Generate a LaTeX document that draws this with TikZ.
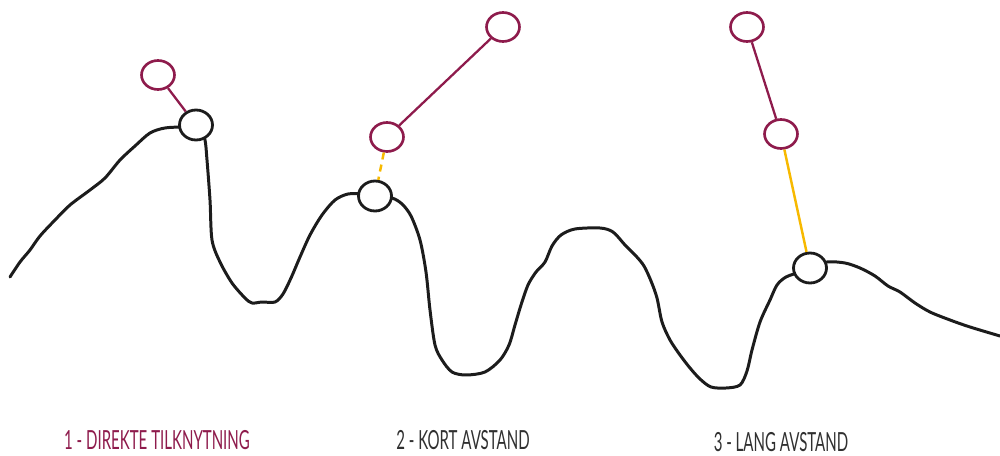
\documentclass[tikz,border=0pt]{standalone}
\usepackage{fontspec}
\setmainfont{Lato}[FakeStretch=0.57]
\usetikzlibrary{shapes.geometric}
\definecolor{wine}{HTML}{8E1B4C}
\definecolor{amber}{HTML}{F7B900}
\definecolor{ink}{HTML}{1C1C1C}
\definecolor{txtgray}{HTML}{303030}
\begin{document}
\begin{tikzpicture}[x=0.02cm,y=-0.02cm]
  \tikzset{
  hold/.style={ellipse,draw=ink,line width=1.6pt,fill=white,inner sep=0pt,minimum width=0.66cm,minimum height=0.6cm},
  hang/.style={ellipse,draw=wine,line width=1.5pt,fill=white,inner sep=0pt,minimum width=0.66cm,minimum height=0.58cm},
  lbl/.style={font=\fontsize{15}{17}\selectfont,anchor=base},
  }
  \useasboundingbox (0,0) rectangle (1000,456);
  % the terrain
  \draw[ink,line width=1.7pt,line cap=round,line join=round] plot[smooth,tension=0.5] coordinates {
    (10,277) (20,262) (30,250) (40,236) (55,220) (70,205) (90,190) (105,178)
    (120,160) (135,146) (150,133) (165,128) (185,127) (200,128) (205,140)
    (207,160) (210,200) (212,240) (220,262) (232,283) (245,298) (252,303)
    (262,302) (275,302) (283,294) (291,278) (300,257) (310,235) (322,215)
    (335,200) (348,194) (362,194) (375,196) (392,198) (402,204) (411,216)
    (420,240) (426,272) (430,310) (435,345) (442,360) (452,372) (466,375)
    (485,372) (500,360) (509,345) (515,325) (521,305) (528,285) (536,272)
    (545,262) (552,246) (561,235) (575,229) (600,228) (613,232) (625,245)
    (636,256) (644,266) (651,281) (657,298) (662,322) (670,340) (680,355)
    (690,368) (700,379) (711,387) (726,388) (740,385) (747,371) (752,350)
    (760,322) (770,300) (777,285) (786,277) (800,272) (810,268) (827,262)
    (845,263) (860,268) (875,276) (888,286) (900,292) (915,303) (930,312)
    (950,320) (970,327) (1000,336)};
  % the holds on the terrain
  \node[hold] (h1) at (196,125) {};
  \node[hold] (h2) at (375,196) {};
  \node[hold] (h3) at (810,268) {};
  % the hanging points
  \node[hang] (a1) at (158,75) {};
  \node[hang] (a2) at (387,137) {};
  \node[hang] (b2) at (503,27) {};
  \node[hang] (a3) at (781,134) {};
  \node[hang] (b3) at (747,27) {};
  % the connections
  \draw[wine,line width=1.3pt] (a1) -- (h1);
  \draw[wine,line width=1.3pt] (a2) -- (b2);
  \draw[amber,line width=1.4pt,dash pattern=on 4pt off 3pt] (a2) -- (h2);
  \draw[wine,line width=1.3pt] (b3) -- (a3);
  \draw[amber,line width=1.4pt] (a3) -- (h3);
  % the labels
  \node[lbl,wine] (t1) at (157,449) {1 - DIREKTE TILKNYTNING};
  \node[lbl,txtgray] (t2) at (463,449) {2 - KORT AVSTAND};
  \node[lbl,txtgray] (t3) at (781,451) {3 - LANG AVSTAND};
\end{tikzpicture}
\end{document}
